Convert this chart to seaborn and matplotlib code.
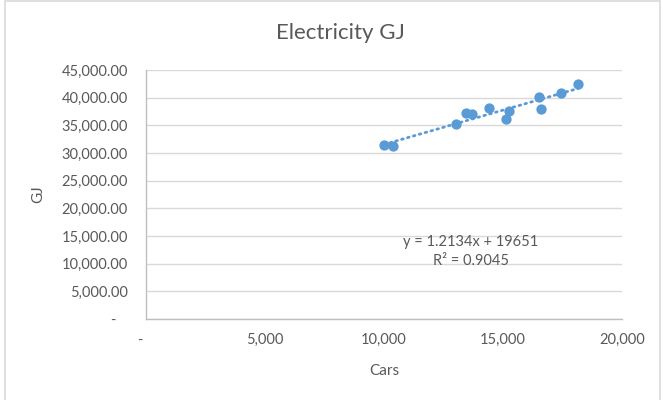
import numpy as np
import pandas as pd
import matplotlib
matplotlib.use("Agg")
import matplotlib.pyplot as plt
import matplotlib.ticker as mticker
from matplotlib.patches import Rectangle
import seaborn as sns

# data
cars = [10000, 10370, 13030, 13460, 13690, 14420, 15240, 15110, 16500, 16610, 17420, 18170]
gj = [31500, 31320, 35200, 37200, 36970, 38180, 37580, 36200, 40080, 38010, 40930, 42390]
equation = "y = 1.2134x + 19651\nR\u00b2 = 0.9045"

x_ticks = [0, 5000, 10000, 15000, 20000]
y_ticks = list(range(0, 45001, 5000))

df = pd.DataFrame({"Cars": cars, "GJ": gj})

blue = "#5B9BD5"
text_grey = "#595959"

sns.set_theme(style="white")
plt.rcParams["font.family"] = ["Lato", "DejaVu Sans"]

fig = plt.figure(figsize=(6.63, 4.0), dpi=100)
ax = fig.add_axes([146 / 663, 1 - 319 / 400, (622 - 146) / 663, (319 - 70) / 400])

# chart frame like the Excel chart area
fig.patches.append(Rectangle((5 / 663, -0.01), 655 / 663, 1 - 1 / 400 + 0.01,
                             transform=fig.transFigure, fill=False,
                             edgecolor="#D9D9D9", linewidth=1.2))

sns.regplot(data=df, x="Cars", y="GJ", scatter=False, ci=None, ax=ax,
            line_kws={"color": blue, "linewidth": 2.0, "linestyle": (0, (0.6, 1.6)),
                      "dash_capstyle": "round"})
sns.scatterplot(data=df, x="Cars", y="GJ", ax=ax, color=blue, s=55,
                edgecolor=blue, linewidth=0, zorder=3)

ax.set_xlim(0, 20000)
ax.set_ylim(0, 45000)
ax.set_xticks(x_ticks)
ax.set_yticks(y_ticks)
ax.xaxis.set_major_formatter(mticker.FuncFormatter(lambda v, p: "-   " if v == 0 else f"{v:,.0f}"))
ax.yaxis.set_major_formatter(mticker.FuncFormatter(lambda v, p: "-   " if v == 0 else f"{v:,.2f}"))
ax.tick_params(axis="both", length=0, labelsize=10.5, labelcolor=text_grey)
ax.tick_params(axis="y", pad=13)
ax.tick_params(axis="x", pad=10)

ax.grid(axis="y", color="#D9D9D9", linewidth=1.0)
ax.grid(axis="x", visible=False)
ax.set_axisbelow(True)
for side in ["top", "right"]:
    ax.spines[side].set_visible(False)
for side in ["left", "bottom"]:
    ax.spines[side].set_color("#BFBFBF")
    ax.spines[side].set_linewidth(1.0)

ax.set_xlabel("Cars", fontsize=11, color=text_grey, labelpad=12)
ax.set_ylabel("GJ", fontsize=11, color=text_grey, labelpad=12)

ax.text(13640, 12250, equation, ha="center", va="center", fontsize=10.5,
        color=text_grey, linespacing=1.45)

fig.text(340 / 663, 1 - 33 / 400, "Electricity GJ", ha="center", va="center",
         fontsize=16, color=text_grey)

fig.savefig("out.png", dpi=100)
